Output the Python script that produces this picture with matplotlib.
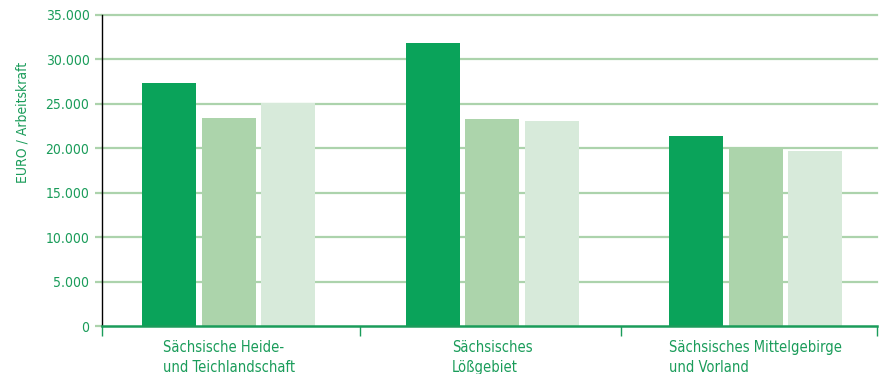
import numpy as np
import matplotlib.pyplot as plt
from matplotlib.ticker import FixedLocator, FuncFormatter

plt.rcParams['font.family'] = ['DejaVu Sans']
plt.rcParams['font.stretch'] = 'condensed'

categories = ["Sächsische Heide-\nund Teichlandschaft",
              "Sächsisches\nLößgebiet",
              "Sächsisches Mittelgebirge\nund Vorland"]
series_a = [27400, 31850, 21350]
series_b = [23400, 23300, 20100]
series_c = [25150, 23050, 19700]
yticks = [0, 5000, 10000, 15000, 20000, 25000, 30000, 35000]
group_edges = [-0.48, 0.5, 1.49, 2.46]

GREEN_TXT = "#1a9c5a"
GRID = "#acd3ac"
COLORS = ["#0aa35a", "#acd4ab", "#d7eada"]

fig = plt.figure(figsize=(8.87, 3.74), dpi=100)
ax = fig.add_axes([102 / 887, 48 / 374, 775 / 887, 311 / 374])

x = np.arange(len(categories))
width = 0.205
step = 0.226
for i, (vals, col) in enumerate(zip([series_a, series_b, series_c], COLORS)):
    ax.bar(x + (i - 1) * step, vals, width=width, color=col, zorder=3)

ax.set_xlim(group_edges[0], group_edges[-1])
ax.set_ylim(0, 35000)

for y in yticks[1:]:
    ax.axhline(y, color=GRID, lw=1.6, zorder=1, clip_on=False)

ax.set_yticks(yticks)
ax.yaxis.set_major_formatter(FuncFormatter(lambda v, p: f"{int(v):,}".replace(",", ".")))
ax.tick_params(axis="y", colors=GRID, labelcolor=GREEN_TXT, length=5, width=1.6,
               labelsize=10, pad=4)

ax.set_xticks(x)
ax.set_xticklabels(categories, fontsize=10.5, color=GREEN_TXT, ha="center",
                   multialignment="left", linespacing=1.4)
ax.tick_params(axis="x", length=0, pad=10)
ax.xaxis.set_minor_locator(FixedLocator(group_edges))
ax.tick_params(axis="x", which="minor", length=7, width=1, color=GREEN_TXT)

ax.set_ylabel("EURO / Arbeitskraft", fontsize=10, color=GREEN_TXT)
ax.yaxis.set_label_coords(-0.093, 0.656)

for s in ["top", "right"]:
    ax.spines[s].set_visible(False)
ax.spines["left"].set_color("black")
ax.spines["left"].set_linewidth(1)
ax.spines["bottom"].set_color(GREEN_TXT)
ax.spines["bottom"].set_linewidth(1.8)
ax.spines["bottom"].set_zorder(4)

fig.savefig("out.png", dpi=100)
